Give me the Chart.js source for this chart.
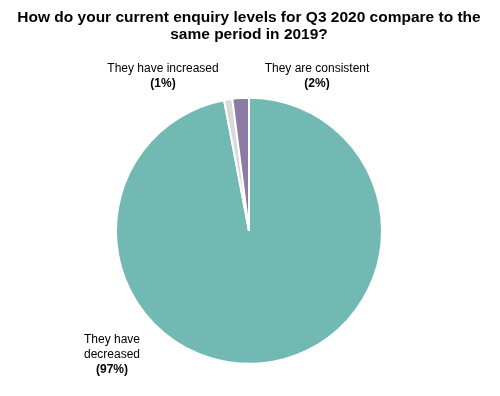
<!DOCTYPE html>
<html>
<head>
<meta charset="utf-8">
<script src="https://cdn.jsdelivr.net/npm/chart.js@4"></script>
<style>
  html, body { margin: 0; padding: 0; background: #ffffff; }
  #wrap { width: 500px; height: 396px; }
</style>
</head>
<body>
<div id="wrap"><canvas id="c" width="500" height="396"></canvas></div>
<script>
const categories = ['They have decreased', 'They have increased', 'They are consistent'];
const values = [97, 1, 2];
const valueLabels = ['(97%)', '(1%)', '(2%)'];
const titleLines = ['How do your current enquiry levels for Q3 2020 compare to the', 'same period in 2019?'];
const sliceColors = ['#72b9b3', '#d9d9d9', '#8c7ba6'];

// label placement relative to pie centre (px), and line wrapping of category names
const labelLayout = [
  { dx: -137, dy: 109, lines: ['They have', 'decreased'], gap: 15 },
  { dx: -86, dy: -162, lines: ['They have increased'], gap: 14.5 },
  { dx: 68, dy: -162, lines: ['They are consistent'], gap: 14.5 }
];

const labelPlugin = {
  id: 'outerLabels',
  afterDatasetsDraw(chart) {
    const ctx = chart.ctx;
    const meta = chart.getDatasetMeta(0);
    ctx.save();
    ctx.fillStyle = '#000000';
    ctx.textAlign = 'center';
    ctx.textBaseline = 'middle';
    meta.data.forEach((arc, i) => {
      const lay = labelLayout[i];
      const x = arc.x + lay.dx;
      let y = arc.y + lay.dy;
      ctx.font = '12px "Liberation Sans", Arial, sans-serif';
      lay.lines.forEach(t => { ctx.fillText(t, x, y); y += lay.gap; });
      ctx.font = 'bold 12px "Liberation Sans", Arial, sans-serif';
      ctx.fillText(valueLabels[i], x, y);
    });
    ctx.restore();
  }
};

new Chart(document.getElementById('c'), {
  type: 'pie',
  data: {
    labels: categories,
    datasets: [{
      data: values,
      backgroundColor: sliceColors,
      borderColor: '#ffffff',
      borderWidth: 2,
      radius: 133
    }]
  },
  options: {
    responsive: false,
    animation: false,
    layout: { padding: { left: 0, right: 2, top: 0, bottom: 4 } },
    plugins: {
      legend: { display: false },
      tooltip: { enabled: false },
      title: {
        display: true,
        text: titleLines,
        color: '#000000',
        font: { family: '"Liberation Sans", Arial, sans-serif', size: 15.5, weight: 'bold', lineHeight: 1.1 },
        padding: { top: 9, bottom: 26.5 }
      }
    }
  },
  plugins: [labelPlugin]
});
</script>
</body>
</html>
